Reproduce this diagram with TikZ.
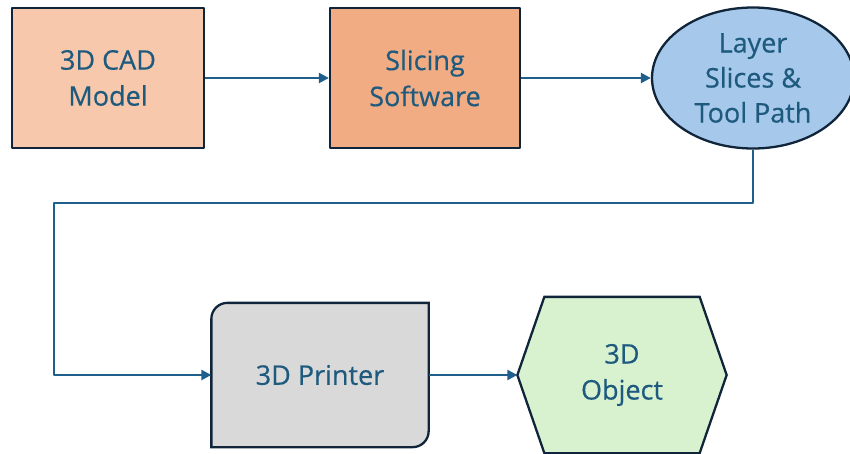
\documentclass[tikz,border=0pt]{standalone}
\usepackage{fontspec}
\setmainfont{Open Sans}[FakeBold=0.5]
\usetikzlibrary{arrows.meta,shapes.geometric,backgrounds}
\definecolor{edge}{HTML}{10243A}
\definecolor{txt}{HTML}{1E5A7E}
\definecolor{flowc}{HTML}{1F5F8B}
\definecolor{cadfill}{HTML}{F7C8AC}
\definecolor{slicefill}{HTML}{F2AC84}
\definecolor{layerfill}{HTML}{A6C8EA}
\definecolor{printfill}{HTML}{D9D9D9}
\definecolor{objfill}{HTML}{D8F2D0}
\tikzset{
  block/.style={draw=edge,line width=2.3pt,text=txt,align=center,inner sep=0pt,
    minimum width=192pt,minimum height=140pt},
  flow/.style={->,draw=flowc,line width=2.3pt}
}
\begin{document}
\begin{tikzpicture}[x=1pt,y=-1pt,>={Triangle[length=10pt,width=10pt]},line join=round,
  font=\fontsize{27}{36}\selectfont]
  \useasboundingbox (0,0) rectangle (850,453);
  \path
  (108,78) coordinate (c1)
  (425,78) coordinate (c2)
  (753,78) coordinate (c3)
  (320,375) coordinate (c4)
  (622,375) coordinate (c5)
  (54,203) coordinate (turn)
  ;
  \node[block,fill=cadfill] (cad) at (c1) {3D CAD\\Model};
  \node[block,fill=slicefill,minimum width=190pt] (slicer) at (c2) {Slicing\\Software};
  \node[block,fill=layerfill,ellipse,inner sep=-4pt,minimum width=202pt,minimum height=141pt,
    font=\fontsize{27}{35}\selectfont] (layer) at (c3) {Layer\\Slices \&\\Tool Path};
  \node[block,draw=none,minimum width=215pt,minimum height=142pt] (printer) at (c4) {3D Printer};
  \node[block,draw=none,minimum width=207pt,minimum height=154pt] (object) at (c5) {3D\\Object};
  \begin{scope}[on background layer]
    % printer: rounded top left and bottom right
    \filldraw[fill=printfill,draw=edge,line width=2.3pt]
    (printer.south west) -- ([yshift=-16pt]printer.north west) arc(180:90:16pt)
    -- (printer.north east) -- ([yshift=16pt]printer.south east) arc(0:-90:16pt) -- cycle;
    % object: hexagon
    \filldraw[fill=objfill,draw=edge,line width=2.3pt]
    (object.west) -- ([xshift=27pt]object.north west) -- ([xshift=-27pt]object.north east)
    -- (object.east) -- ([xshift=-27pt]object.south east) -- ([xshift=27pt]object.south west) -- cycle;
  \end{scope}
  \foreach \a/\b in {cad/slicer,slicer/layer,printer/object}
  \draw[flow] (\a.east) -- (\b.west);
  \draw[flow] (layer.south) |- (turn) |- (printer.west);
\end{tikzpicture}
\end{document}
